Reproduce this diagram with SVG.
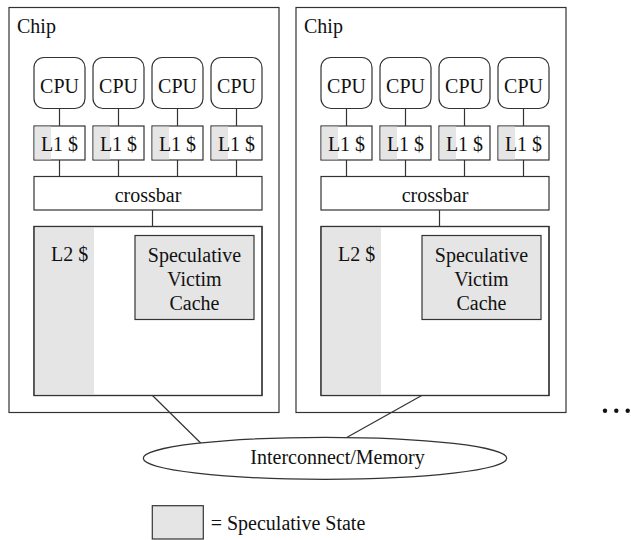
<svg xmlns="http://www.w3.org/2000/svg" width="631" height="540" viewBox="0 0 631 540">
<style>
text{font-family:"Liberation Serif","Times New Roman",serif;font-size:20px;fill:#111}
.m{text-anchor:middle}
.b{fill:#fff;stroke:#333;stroke-width:1.2}
.g{fill:#e5e5e5;stroke:none}
.o{fill:none;stroke:#333;stroke-width:1.2}
.sv{fill:#e5e5e5;stroke:#333;stroke-width:1.2}
.c{stroke:#333;stroke-width:1.2;fill:none}
</style>
<defs>
<g id="chipT">
<rect class="b" x="9" y="7.5" width="270" height="405"/>
<text x="17" y="33">Chip</text>
<g class="c">
<line x1="59.5" y1="108.5" x2="59.5" y2="126"/><line x1="118.5" y1="108.5" x2="118.5" y2="126"/><line x1="177.5" y1="108.5" x2="177.5" y2="126"/><line x1="236.5" y1="108.5" x2="236.5" y2="126"/>
<line x1="59.5" y1="160" x2="59.5" y2="176.5"/><line x1="118.5" y1="160" x2="118.5" y2="176.5"/><line x1="177.5" y1="160" x2="177.5" y2="176.5"/><line x1="236.5" y1="160" x2="236.5" y2="176.5"/>
<line x1="152.5" y1="210" x2="152.5" y2="226.5"/>
</g>
<rect class="b" x="34" y="57.5" width="51" height="51" rx="10"/><text class="m" x="59.5" y="92.7">CPU</text>
<rect class="b" x="93" y="57.5" width="51" height="51" rx="10"/><text class="m" x="118.5" y="92.7">CPU</text>
<rect class="b" x="152" y="57.5" width="51" height="51" rx="10"/><text class="m" x="177.5" y="92.7">CPU</text>
<rect class="b" x="211" y="57.5" width="51" height="51" rx="10"/><text class="m" x="236.5" y="92.7">CPU</text>
<rect class="b" x="34" y="126" width="51" height="34"/><rect class="g" x="34.6" y="126.6" width="16.4" height="32.8"/><text class="m" x="59.5" y="150.5">L1 $</text>
<rect class="b" x="93" y="126" width="51" height="34"/><rect class="g" x="93.6" y="126.6" width="16.4" height="32.8"/><text class="m" x="118.5" y="150.5">L1 $</text>
<rect class="b" x="152" y="126" width="51" height="34"/><rect class="g" x="152.6" y="126.6" width="16.4" height="32.8"/><text class="m" x="177.5" y="150.5">L1 $</text>
<rect class="b" x="211" y="126" width="51" height="34"/><rect class="g" x="211.6" y="126.6" width="16.4" height="32.8"/><text class="m" x="236.5" y="150.5">L1 $</text>
<rect class="b" x="34" y="176.5" width="228" height="33.5"/><text class="m" x="148" y="201.5">crossbar</text>
<rect class="b" x="34" y="226.5" width="228" height="169"/>
<rect class="g" x="34.6" y="227.1" width="59.4" height="167.8"/>
<rect class="o" x="34" y="226.5" width="228" height="169"/>
<text x="51" y="260.7">L2 $</text>
<rect class="sv" x="135" y="235.5" width="119" height="84"/>
<text class="m" x="194.5" y="261.5">Speculative</text>
<text class="m" x="194.5" y="285.5">Victim</text>
<text class="m" x="194.5" y="310">Cache</text>
</g>
</defs>
<g id="chip1"><use href="#chipT"/></g>
<g id="chip2"><use href="#chipT" x="287"/></g>
<g id="connectors" class="c">
<line x1="152.5" y1="395.5" x2="201.7" y2="444"/>
<line x1="421.7" y1="395.5" x2="346.7" y2="437.5"/>
</g>
<g id="memory">
<ellipse class="b" cx="325" cy="458.3" rx="181.7" ry="21"/>
<text class="m" x="337.5" y="463.5">Interconnect/Memory</text>
</g>
<g id="dots" fill="#111">
<circle cx="605" cy="410.7" r="2.2"/><circle cx="616.3" cy="410.7" r="2.2"/><circle cx="627.7" cy="410.7" r="2.2"/>
</g>
<g id="legend">
<rect class="sv" x="152.3" y="505.7" width="51" height="33.3"/>
<text x="210.7" y="530">= Speculative State</text>
</g>
</svg>
